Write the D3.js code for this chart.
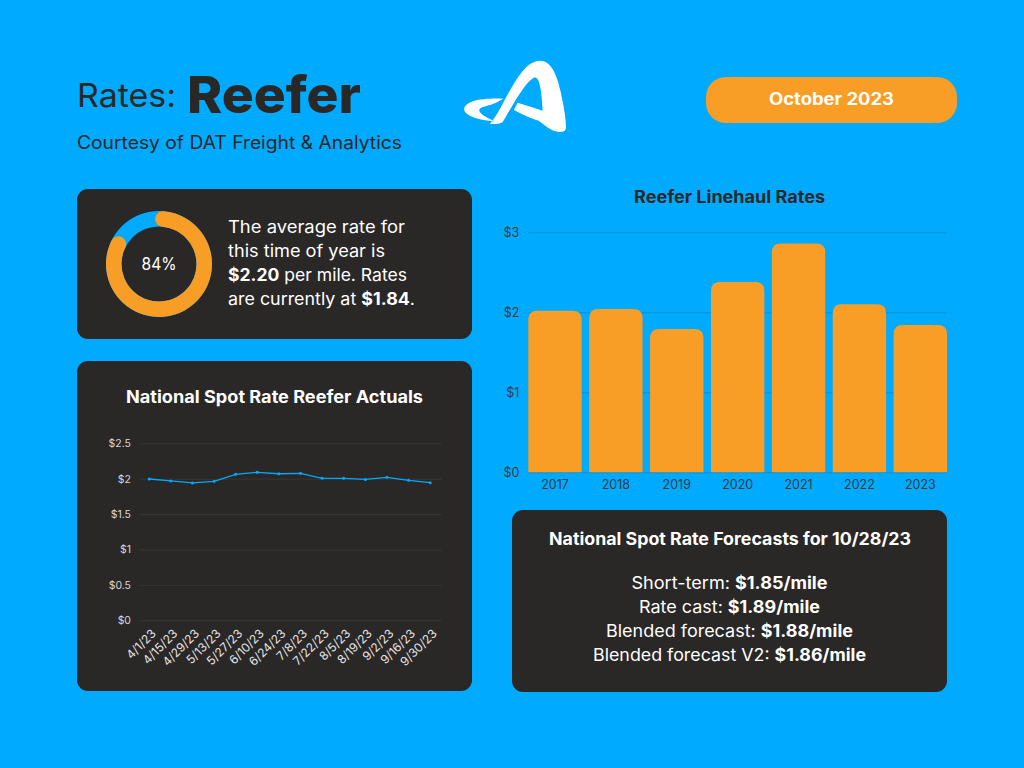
<!DOCTYPE html>
<html><head><meta charset="utf-8">
<script src="https://cdnjs.cloudflare.com/ajax/libs/d3/7.8.5/d3.min.js"></script>
<style>html,body{margin:0;padding:0;background:#00aaff;overflow:hidden}svg{display:block}text{font-family:Inter,"Noto Sans",sans-serif}</style>
</head><body><svg id="c" width="1024" height="768"></svg>
<script>
const barYears=["2017","2018","2019","2020","2021","2022","2023"];
const barRates=[2.02,2.04,1.79,2.38,2.86,2.10,1.84];
const barTicks=[0,1,2,3];
const spotDates=["4/1/23","4/15/23","4/29/23","5/13/23","5/27/23","6/10/23","6/24/23","7/8/23","7/22/23","8/5/23","8/19/23","9/2/23","9/16/23","9/30/23"];
const spotRates=[1.996,1.968,1.94,1.963,2.062,2.09,2.07,2.076,2.005,2.005,1.99,2.02,1.977,1.944];
const spotTicks=[0,0.5,1,1.5,2,2.5];
const donutPercent=84;
const forecastLabels=["Short-term: ","Rate cast: ","Blended forecast: ","Blended forecast V2: "];
const forecastValues=["$1.85/mile","$1.89/mile","$1.88/mile","$1.86/mile"];

const DARK="#2a2727",BLUE="#00aaff",ORANGE="#f89d26",WHITE="#ffffff";
const svg=d3.select("#c");
svg.append("rect").attr("width",1024).attr("height",768).attr("fill",BLUE);

function label(x,y,runs,opt){
  const o=Object.assign({size:17,fill:WHITE,anchor:"start",bold:700},opt);
  const t=svg.append("text").attr("x",x).attr("y",y).attr("font-size",o.size).attr("fill",o.fill).attr("text-anchor",o.anchor);
  runs.forEach(r=>t.append("tspan").attr("font-weight",r[1]?o.bold:400).text(r[0]));
  if(o.width){t.attr("textLength",o.width).attr("lengthAdjust","spacingAndGlyphs");}
  return t;
}
function card(x,y,w,h){svg.append("rect").attr("x",x).attr("y",y).attr("width",w).attr("height",h).attr("rx",11).attr("fill",DARK);}

// header
label(77,107,[["Rates:",0]],{size:33,fill:DARK,width:99});
label(187,113,[["Reefer",1]],{size:51,fill:DARK,width:174,bold:800});
label(77,149,[["Courtesy of DAT Freight & Analytics",0]],{size:18,fill:DARK,width:325});
svg.append("g").attr("transform","translate(440,50) scale(0.3333)").append("path").attr("fill",WHITE)
 .attr("d","M150,222 C172,196 186,164 205,130 C232,82 262,32 300,32 C332,32 350,70 362,125 C372,172 378,205 378,232 C378,246 366,247 352,245 C332,241 315,226 296,212 C272,206 240,190 222,180 C226,172 229,165 233,158 C258,166 285,174 308,182 C306,150 304,122 298,100 C295,86 287,80 280,84 C262,94 240,130 222,158 C210,178 198,200 188,216 C180,222 165,223 150,222 Z M190,146 C160,145 120,146 95,155 C75,163 68,176 75,186 C90,204 125,211 165,214 C145,205 122,195 118,182 C116,174 130,170 150,165 C165,160 178,153 190,146 Z");
svg.append("rect").attr("x",706).attr("y",77).attr("width",251).attr("height",46).attr("rx",20).attr("fill",ORANGE);
label(831.5,105,[["October 2023",1]],{anchor:"middle",width:125});

// donut card
card(77,189,395,150);
const dg=svg.append("g").attr("transform","translate(159,264)");
const arc=d3.arc().innerRadius(37.5).outerRadius(53);
dg.append("path").attr("d",arc({startAngle:0,endAngle:2*Math.PI})).attr("fill",BLUE);
const deg=Math.PI/180;
const angle=d3.scaleLinear().domain([0,84]).range([-5*deg,306*deg]);
dg.append("path").attr("d",arc.cornerRadius(7.75)({startAngle:angle(0),endAngle:angle(donutPercent)})).attr("fill",ORANGE);
label(159,270,[[donutPercent+"%",0]],{anchor:"middle",width:35});
label(228,233,[["The average rate for",0]],{width:177});
label(228,257,[["this time of year is",0]],{width:157});
label(228,281,[["$2.20",1],[" per mile. Rates",0]],{width:179});
label(228,305,[["are currently at ",0],["$1.84",1],[".",0]],{width:187});

// line card
card(77,361,395,330);
label(274.5,403,[["National Spot Rate Reefer Actuals",1]],{anchor:"middle",width:297});
const lx=d3.scalePoint().domain(spotDates).range([138.4,441]).padding(0.5);
const ly=d3.scaleLinear().domain([0,2.5]).range([620.3,443.3]);
const lyAxis=svg.append("g").attr("transform","translate(139,0)")
 .call(d3.axisLeft(ly).tickValues(spotTicks).tickSize(-302.7).tickPadding(8).tickFormat(d=>"$"+d));
lyAxis.select(".domain").remove();
lyAxis.selectAll("line").attr("stroke","#3b3838").attr("stroke-width",0.8);
lyAxis.selectAll("text").attr("fill","#d9d9d9").attr("font-size",10.5).style("font-family","Inter");
const lxAxis=svg.append("g").attr("transform","translate(0,620.3)").call(d3.axisBottom(lx).tickSize(0));
lxAxis.select(".domain").remove();
lxAxis.selectAll("text").attr("fill","#e6e6e6").attr("font-size",12).style("font-family","Inter")
 .attr("text-anchor","end").attr("dy",0).attr("y",0)
 .attr("transform","translate(7,14) rotate(-45)");
svg.append("path").datum(spotRates).attr("fill","none").attr("stroke",BLUE).attr("stroke-width",1.3)
 .attr("d",d3.line().x((d,i)=>lx(spotDates[i])).y(d=>ly(d)));
svg.selectAll("circle.pt").data(spotRates).join("circle").attr("class","pt")
 .attr("cx",(d,i)=>lx(spotDates[i])).attr("cy",d=>ly(d)).attr("r",1.5).attr("fill",BLUE);

// bar chart
label(729.5,203,[["Reefer Linehaul Rates",1]],{anchor:"middle",fill:DARK,width:191});
const bx=d3.scaleBand().domain(barYears).range([528.3,947]).paddingInner(0.123).paddingOuter(0);
const by=d3.scaleLinear().domain([0,3]).range([472.3,232.3]);
const byAxis=svg.append("g").attr("transform","translate(528.3,0)")
 .call(d3.axisLeft(by).tickValues(barTicks).tickSize(-418.7).tickPadding(9).tickFormat(d=>"$"+d));
byAxis.select(".domain").remove();
byAxis.selectAll("line").attr("stroke","#0a8ccf").attr("stroke-width",0.9);
byAxis.selectAll("text").attr("fill","#333a40").attr("font-size",12.5).style("font-family","Inter");
const r=9;
svg.selectAll("path.bar").data(barRates).join("path").attr("class","bar").attr("fill",ORANGE)
 .attr("d",(d,i)=>{const x=bx(barYears[i]),w=bx.bandwidth(),y=by(d),b=by(0);
   return `M${x},${b}V${y+r}Q${x},${y} ${x+r},${y}H${x+w-r}Q${x+w},${y} ${x+w},${y+r}V${b}Z`;});
const bxAxis=svg.append("g").attr("transform","translate(0,472.3)").call(d3.axisBottom(bx).tickSize(0).tickPadding(8));
bxAxis.select(".domain").remove();
bxAxis.selectAll("text").attr("fill","#333a40").attr("font-size",12.5).style("font-family","Inter");

// forecast card
card(512,510,435,182);
label(730,545,[["National Spot Rate Forecasts for 10/28/23",1]],{anchor:"middle",width:362});
const fw=[196,181,247,273];
forecastLabels.forEach((l,i)=>label(729.5,589+24*i,[[l,0],[forecastValues[i],1]],{anchor:"middle",width:fw[i]}));
</script></body></html>
